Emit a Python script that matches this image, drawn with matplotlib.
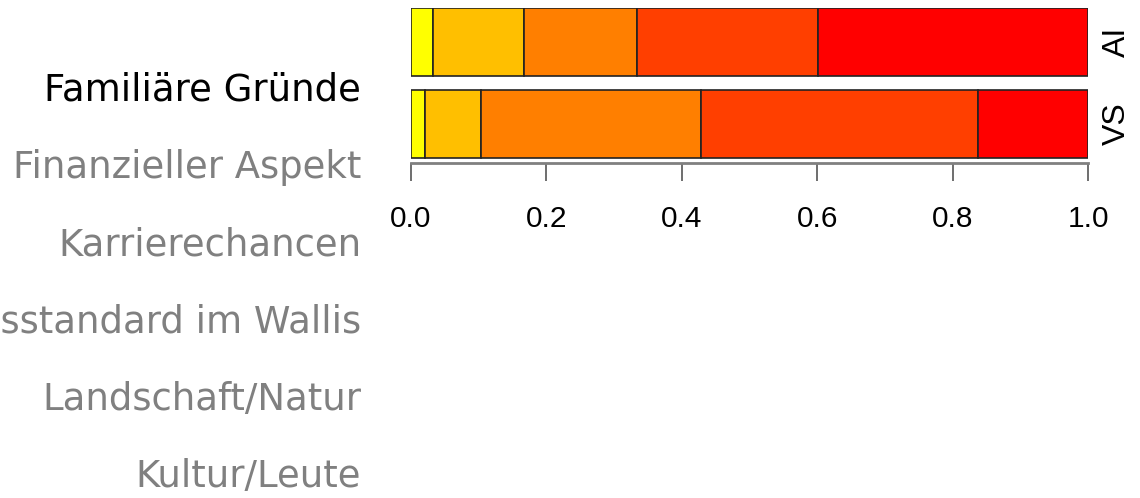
import matplotlib
matplotlib.use("Agg")
import matplotlib.pyplot as plt
import matplotlib.transforms as mtransforms

plt.rcParams["font.family"] = ["Liberation Sans", "DejaVu Sans"]

# Anteile je Antwortkategorie (gestapelt, links -> rechts)
groups = ["VS", "AI"]
ai_shares = [0.033, 0.134, 0.167, 0.267, 0.399]
vs_shares = [0.021, 0.083, 0.325, 0.409, 0.162]
seg_colors = ["#FFFF00", "#FFBF00", "#FF7F00", "#FF3F00", "#FF0000"]

# Menue links
reasons = ["Familiäre Gründe", "Finanzieller Aspekt", "Karrierechancen",
           "Lebensstandard im Wallis", "Landschaft/Natur", "Kultur/Leute"]
active = 0

xticks = [0.0, 0.2, 0.4, 0.6, 0.8, 1.0]

W, H = 1140, 498
fig = plt.figure(figsize=(W / 100, H / 100), dpi=100)

# axes: bars from y=8 to y=158 px, axis line at 163 px
ax = fig.add_axes([411 / W, 1 - 163 / H, 677 / W, 155 / H])

shares = {"AI": ai_shares, "VS": vs_shares}
bar_h = 68 / 82
for i, g in enumerate(groups):
    left = 0
    for val, col in zip(shares[g], seg_colors):
        ax.barh(i, val, left=left, height=bar_h, color=col,
                edgecolor="#222222", linewidth=1.2)
        left += val

ax.set_xlim(0, 1)
ax.set_ylim(-0.5 * bar_h - 5 / 82, 1 + 0.5 * bar_h)
ax.set_yticks([])
ax.set_xticks(xticks)
ax.set_xticklabels(["%.1f" % t for t in xticks], fontsize=21.5)
ax.tick_params(axis="x", length=13, width=1.2, color="#555555", pad=17)
for s in ["top", "left", "right"]:
    ax.spines[s].set_visible(False)
ax.spines["bottom"].set_color("#808080")
ax.spines["bottom"].set_linewidth(2)

# Gruppenlabels rechts, gedreht
trans = mtransforms.blended_transform_factory(ax.transAxes, ax.transData)
for i, g in enumerate(groups):
    ax.text(1 + 29 / 677, i, g, rotation=90, ha="center", va="center",
            fontsize=23, transform=trans)

# Menuetexte: Groesse so waehlen, dass "Familiaere Gruende" ~316 px breit ist
renderer = fig.canvas.get_renderer()
probe = fig.text(0, 0, reasons[0], fontsize=25, family="DejaVu Sans")
w = probe.get_window_extent(renderer).width
probe.remove()
fsize = 25 * 316 / w

for i, r in enumerate(reasons):
    y = 100.7 + 77.3 * i
    col = "black" if i == active else "#808080"
    fig.text(361 / W, 1 - y / H, r, ha="right", va="baseline",
             fontsize=fsize, color=col, family="DejaVu Sans")

fig.savefig("out.png", dpi=100)
